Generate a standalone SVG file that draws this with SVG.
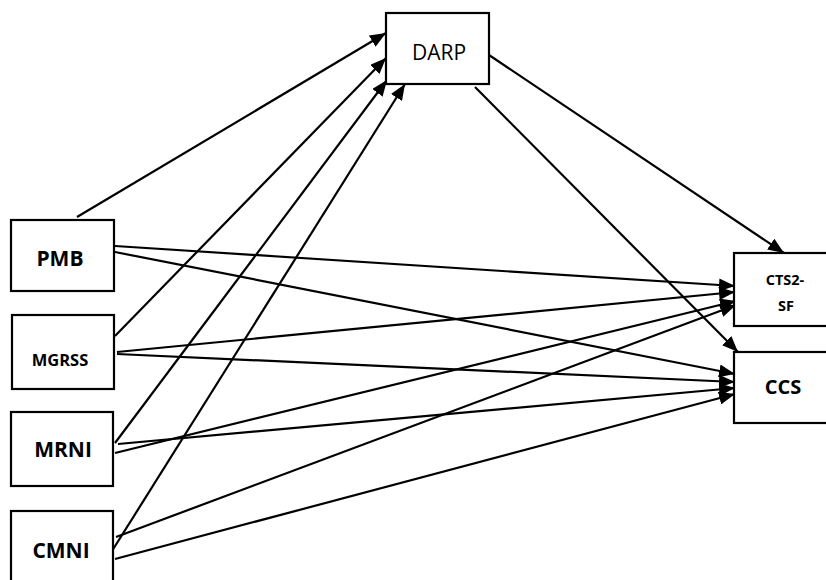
<svg xmlns="http://www.w3.org/2000/svg" width="826" height="580" viewBox="0 0 826 580">
<style>
.box{fill:#fff;stroke:#000;stroke-width:2.2}
.lbl{font-family:"Open Sans","Liberation Sans",sans-serif;font-weight:bold;fill:#000;text-anchor:middle}
.conn line{stroke:#000;stroke-width:2.2;marker-end:url(#ah)}
</style>
<defs>
<marker id="ah" markerUnits="userSpaceOnUse" markerWidth="17" markerHeight="13" refX="16" refY="6.5" orient="auto">
<path d="M0,0 L16,6.5 L0,13 Z" fill="#000"/>
</marker>
</defs>
<rect width="826" height="580" fill="#fff"/>
<g class="conn" id="connectors">
<line x1="77" y1="217" x2="386" y2="33"/>
<line x1="115" y1="336" x2="386" y2="58"/>
<line x1="115" y1="443" x2="387" y2="80"/>
<line x1="112" y1="551" x2="405" y2="84"/>
<line x1="489" y1="55" x2="784" y2="253"/>
<line x1="475" y1="87" x2="738" y2="352"/>
<line x1="115" y1="246" x2="735" y2="286"/>
<line x1="115" y1="252" x2="735" y2="374"/>
<line x1="117" y1="352" x2="735" y2="292"/>
<line x1="117" y1="354" x2="735" y2="382"/>
<line x1="115" y1="453" x2="736" y2="301"/>
<line x1="118" y1="444" x2="735" y2="388"/>
<line x1="116" y1="537" x2="736" y2="305"/>
<line x1="115" y1="559" x2="735" y2="394"/>
</g>
<g id="DARP">
<rect class="box" x="386" y="13" width="103" height="71"/>
<text class="lbl" x="439" y="60" font-size="21" style="font-weight:normal">DARP</text>
</g>
<g id="PMB">
<rect class="box" x="11" y="220" width="103" height="71"/>
<text class="lbl" x="60" y="266" font-size="21">PMB</text>
</g>
<g id="MGRSS">
<rect class="box" x="12" y="315" width="102" height="74"/>
<text class="lbl" x="60" y="366" font-size="16.5">MGRSS</text>
</g>
<g id="MRNI">
<rect class="box" x="11" y="412" width="102" height="74"/>
<text class="lbl" x="63" y="457" font-size="21">MRNI</text>
</g>
<g id="CMNI">
<rect class="box" x="11" y="511" width="102" height="80"/>
<text class="lbl" x="61" y="558" font-size="21">CMNI</text>
</g>
<g id="CTS2-SF">
<rect class="box" x="734" y="253" width="100" height="73"/>
<text class="lbl" x="785" y="285" font-size="14.5">CTS2-</text>
<text class="lbl" x="786" y="311" font-size="14.5">SF</text>
</g>
<g id="CCS">
<rect class="box" x="734" y="352" width="100" height="71"/>
<text class="lbl" x="783" y="394" font-size="20">CCS</text>
</g>
</svg>
